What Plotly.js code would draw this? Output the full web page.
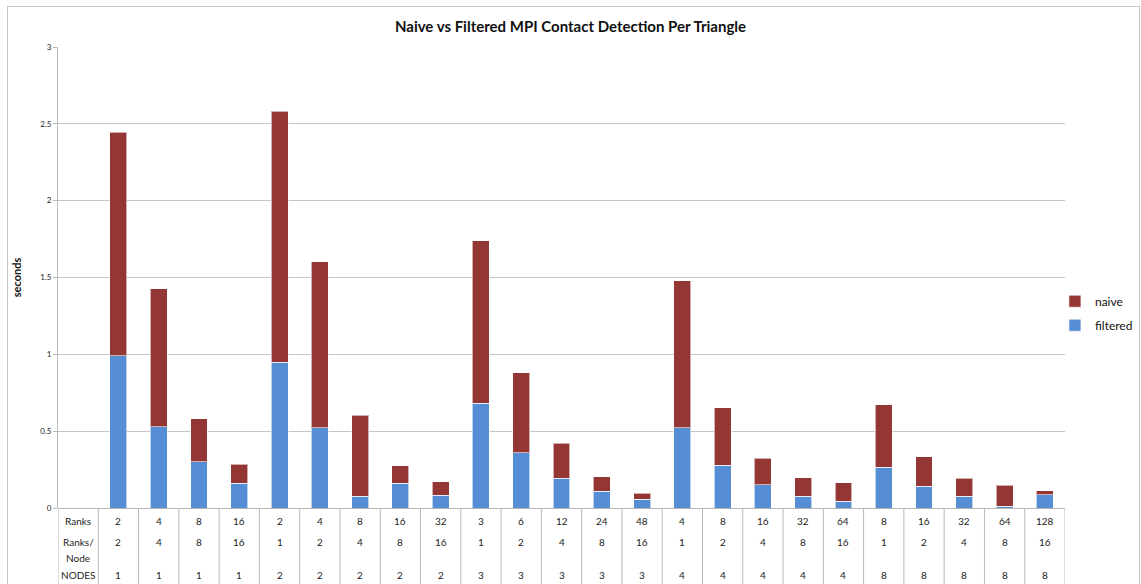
<!DOCTYPE html>
<html>
<head>
<meta charset="utf-8">
<script src="https://cdn.plot.ly/plotly-3.0.1.min.js"></script>
<style>
html,body{margin:0;padding:0;background:#fff;}
#frame{position:absolute;left:7px;top:6px;width:1133px;height:600px;border:1px solid #c8c8c8;box-sizing:border-box;}
#chart{position:absolute;left:0;top:0;width:1141px;height:584px;}
</style>
</head>
<body>
<div id="frame"></div>
<div id="chart"></div>
<script>
// ---- data ----
const ranks        = ["2","4","8","16","2","4","8","16","32","3","6","12","24","48","4","8","16","32","64","8","16","32","64","128"];
const ranksPerNode = ["2","4","8","16","1","2","4","8","16","1","2","4","8","16","1","2","4","8","16","1","2","4","8","16"];
const nodes        = ["1","1","1","1","2","2","2","2","2","3","3","3","3","3","4","4","4","4","4","8","8","8","8","8"];
const filtered = [0.991,0.529,0.302,0.160,0.948,0.521,0.078,0.160,0.082,0.683,0.360,0.193,0.108,0.056,0.521,0.278,0.152,0.076,0.043,0.265,0.143,0.076,0.011,0.085];
const naive    = [1.455,0.898,0.279,0.124,1.635,1.082,0.525,0.115,0.089,1.056,0.521,0.228,0.094,0.039,0.958,0.373,0.171,0.121,0.120,0.407,0.189,0.119,0.137,0.028];
const rowLabels = ["Ranks","Ranks/","Node","NODES"];
const yTicks = [0,0.5,1,1.5,2,2.5,3];

// ---- layout helpers ----
const FONT = "Lato, 'Open Sans', sans-serif";
const xs = ranks.map((_, i) => i + 1);   // column 0 holds the row labels
const red = "#943634", blue = "#558ED5";

const traces = [
  {type:"bar", name:"filtered", x:xs, y:filtered, marker:{color:blue, line:{color:"rgba(255,255,255,0.6)", width:1}}, legendgroup:"f", legendrank:2, hoverinfo:"y"},
  {type:"bar", name:"naive",    x:xs, y:naive,    marker:{color:red,  line:{color:"rgba(255,255,255,0.6)", width:1}}, legendgroup:"n", legendrank:1, hoverinfo:"y"}
];

const annotations = [];
const tableFont = {family: FONT, size: 10, color: "#222"};
const rowShift = {ranks:-13, rpn:-34, node:-50, nodes:-67};
function addCell(x, text, shift){
  annotations.push({x:x, xref:"x", y:0, yref:"paper", yanchor:"middle", xanchor:"center",
    yshift:shift, text:text, showarrow:false, font:tableFont});
}
addCell(0, rowLabels[0], rowShift.ranks);
addCell(0, rowLabels[1], rowShift.rpn);
addCell(0, rowLabels[2], rowShift.node);
addCell(0, rowLabels[3], rowShift.nodes);
xs.forEach((x, i) => {
  addCell(x, ranks[i], rowShift.ranks);
  addCell(x, ranksPerNode[i], rowShift.rpn);
  addCell(x, nodes[i], rowShift.nodes);
});

const shapes = [];
for (let k = 0; k <= xs.length + 1; k++) {
  shapes.push({type:"line", xref:"x", yref:"paper", x0:k-0.5, x1:k-0.5, y0:0, y1:-0.2,
    line:{color:"#b8b8b8", width:1}, layer:"below"});
}

const layout = {
  width:1141, height:584,
  margin:{l:58, r:76, t:47, b:76, autoexpand:false},
  paper_bgcolor:"rgba(0,0,0,0)", plot_bgcolor:"rgba(0,0,0,0)",
  barmode:"stack", bargap:0.58,
  title:{text:"<b>Naive vs Filtered MPI Contact Detection Per Triangle</b>", font:{family:FONT, size:15, color:"#111"}, x:0.5, xanchor:"center", y:0.955, yanchor:"middle"},
  xaxis:{range:[-0.5, xs.length + 0.5], showticklabels:false, showgrid:false, zeroline:false, ticks:"", showline:false, fixedrange:true},
  yaxis:{range:[0,3], tickvals:yTicks, ticktext:yTicks.map(String), showgrid:true, gridcolor:"#c6c6c6", gridwidth:1,
    zeroline:true, zerolinecolor:"#b8b8b8", zerolinewidth:1,
    showline:true, linecolor:"#b8b8b8", ticks:"outside", ticklen:4, tickcolor:"#b8b8b8",
    tickfont:{family:FONT, size:8, color:"#222"},
    title:{text:"<b>seconds</b>", font:{family:FONT, size:11, color:"#111"}, standoff:16}},
  legend:{x:0.99, xanchor:"left", y:0.48, yanchor:"top", traceorder:"grouped", tracegroupgap:5,
    font:{family:FONT, size:12, color:"#111"}, itemwidth:30, bgcolor:"rgba(0,0,0,0)"},
  annotations:annotations, shapes:shapes,
  showlegend:true
};

Plotly.newPlot("chart", traces, layout, {displayModeBar:false, staticPlot:true});
</script>
</body>
</html>
